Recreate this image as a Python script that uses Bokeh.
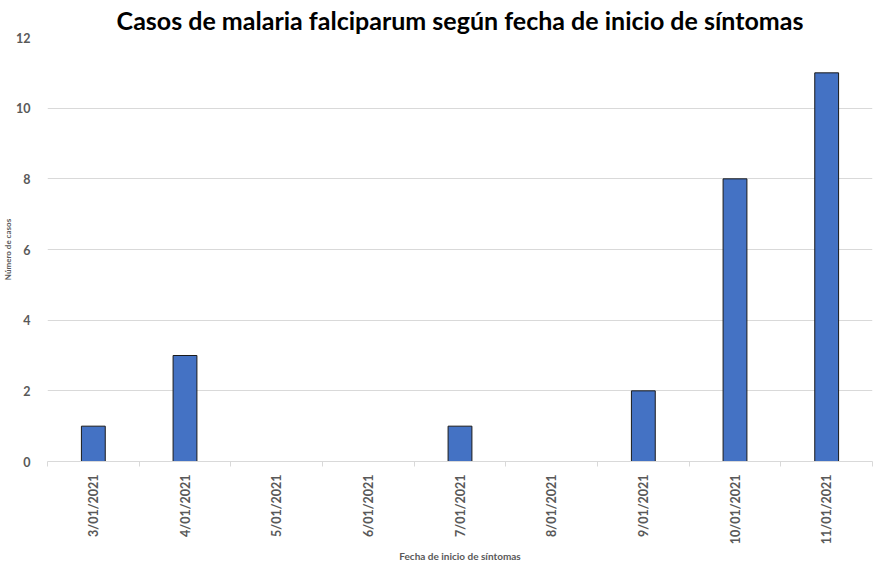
import math
from bokeh.plotting import figure
from bokeh.models import FixedTicker, Range1d, ColumnDataSource, Title
from bokeh.embed import file_html
from bokeh.resources import INLINE

fechas = ["3/01/2021", "4/01/2021", "5/01/2021", "6/01/2021", "7/01/2021",
          "8/01/2021", "9/01/2021", "10/01/2021", "11/01/2021"]
casos = [1, 3, 0, 0, 1, 0, 2, 8, 11]
y_ticks = [0, 2, 4, 6, 8, 10, 12]

FONT = "Lato"
GRAY = "#595959"

xpos = [i + 0.5 for i in range(len(fechas))]
src = ColumnDataSource(dict(x=xpos, top=casos))

p = figure(width=874, height=561, output_backend="svg", toolbar_location=None,
           x_range=Range1d(0, len(fechas)), y_range=Range1d(0, 12),
           title="Casos de malaria falciparum según fecha de inicio de síntomas")
p.vbar(x="x", top="top", width=0.26, source=src, fill_color="#4472C4",
       line_color="#1a1a1a", line_width=1)

p.title.text_font = FONT
p.title.text_font_size = "25px"
p.title.text_font_style = "bold"
p.title.text_color = "#000000"
p.title.align = "center"
p.title.offset = 3
p.title.standoff = 5

p.outline_line_color = None
p.min_border_left = 0
p.min_border_right = 2
p.min_border_top = 2
p.min_border_bottom = 0

# x axis
p.xaxis.ticker = FixedTicker(ticks=xpos, minor_ticks=list(range(len(fechas) + 1)))
p.xaxis.major_label_overrides = {x: f for x, f in zip(xpos, fechas)}
p.xaxis.major_label_orientation = math.pi / 2
p.xaxis.major_tick_out = 0
p.xaxis.major_tick_in = 0
p.xaxis.minor_tick_out = 5
p.xaxis.minor_tick_in = 0
p.xaxis.minor_tick_line_color = "#d9d9d9"
p.xaxis.axis_line_color = "#d9d9d9"
p.xaxis.major_label_text_font = FONT
p.xaxis.major_label_text_font_size = "12.5px"
p.xaxis.major_label_text_font_style = "bold"
p.xaxis.major_label_text_color = GRAY
p.xaxis.major_label_standoff = 8

xtitle = Title(text="Fecha de inicio de síntomas", align="center",
               text_font=FONT, text_font_size="10px", text_font_style="bold",
               text_color=GRAY, standoff=0, offset=-4)
p.add_layout(xtitle, "below")

# y axis
p.yaxis.ticker = FixedTicker(ticks=y_ticks)
p.yaxis.axis_line_color = None
p.yaxis.major_tick_line_color = None
p.yaxis.minor_tick_line_color = None
p.yaxis.major_label_text_font = FONT
p.yaxis.major_label_text_font_size = "12.5px"
p.yaxis.major_label_text_font_style = "bold"
p.yaxis.major_label_text_color = GRAY
p.yaxis.major_label_standoff = 11
p.yaxis.axis_label = "Número de casos"
p.yaxis.axis_label_text_font = FONT
p.yaxis.axis_label_text_font_size = "8px"
p.yaxis.axis_label_text_font_style = "bold"
p.yaxis.axis_label_text_color = GRAY
p.yaxis.axis_label_standoff = 0

p.xgrid.grid_line_color = None
p.ygrid.grid_line_color = "#d9d9d9"
p.ygrid.ticker = FixedTicker(ticks=y_ticks)

open("out.html", "w").write(file_html(p, INLINE))
